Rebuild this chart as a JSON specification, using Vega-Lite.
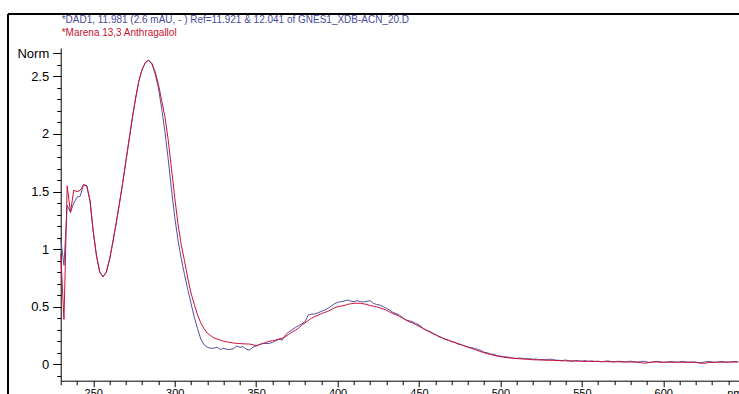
{
  "$schema": "https://vega.github.io/schema/vega-lite/v6.json",
  "width": 678,
  "height": 332.7,
  "autosize": {"type": "none"},
  "padding": {"left": 60.7, "top": 48, "right": 0, "bottom": 13},
  "background": "white",
  "config": {"view": {"stroke": null}, "font": "Liberation Sans"},
  "title": {
    "text": "*DAD1, 11.981 (2.6 mAU, - ) Ref=11.921 & 12.041 of GNES1_XDB-ACN_20.D",
    "subtitle": "*Marena 13,3 Anthragallol",
    "anchor": "start",
    "frame": "group",
    "font": "Liberation Sans",
    "fontSize": 10,
    "fontWeight": "normal",
    "color": "#4a4a9c",
    "subtitleFont": "Liberation Sans",
    "subtitleFontSize": 10,
    "subtitleColor": "#c8102e",
    "subtitlePadding": 3,
    "offset": -24,
    "dx": 1
  },
  "data": {"values": [
    {"nm":230,"b":1.09,"r":0.96},{"nm":232,"b":0.86,"r":0.39},{"nm":234,"b":1.38,"r":1.55},{"nm":236,"b":1.32,"r":1.32},
    {"nm":238,"b":1.40,"r":1.51},{"nm":240,"b":1.45,"r":1.50},{"nm":242,"b":1.46,"r":1.51},{"nm":244,"b":1.56,"r":1.56},
    {"nm":246,"b":1.55,"r":1.55},{"nm":248,"b":1.42,"r":1.42},{"nm":250,"b":1.15,"r":1.15},{"nm":252,"b":0.94,"r":0.94},
    {"nm":254,"b":0.80,"r":0.80},{"nm":256,"b":0.76,"r":0.76},{"nm":258,"b":0.80,"r":0.80},{"nm":260,"b":0.91,"r":0.91},
    {"nm":262,"b":1.06,"r":1.06},{"nm":264,"b":1.22,"r":1.22},{"nm":266,"b":1.39,"r":1.39},{"nm":268,"b":1.57,"r":1.57},
    {"nm":270,"b":1.76,"r":1.76},{"nm":272,"b":1.95,"r":1.95},{"nm":274,"b":2.14,"r":2.14},{"nm":276,"b":2.31,"r":2.31},
    {"nm":278,"b":2.46,"r":2.46},{"nm":280,"b":2.56,"r":2.56},{"nm":282,"b":2.62,"r":2.62},{"nm":284,"b":2.64,"r":2.64},
    {"nm":286,"b":2.61,"r":2.61},{"nm":288,"b":2.52,"r":2.54},{"nm":290,"b":2.40,"r":2.43},{"nm":292,"b":2.22,"r":2.29},
    {"nm":294,"b":2.02,"r":2.15},{"nm":296,"b":1.78,"r":1.95},{"nm":298,"b":1.52,"r":1.70},{"nm":300,"b":1.28,"r":1.45},
    {"nm":302,"b":1.08,"r":1.22},{"nm":304,"b":0.92,"r":1.04},{"nm":306,"b":0.78,"r":0.90},{"nm":308,"b":0.65,"r":0.75},
    {"nm":310,"b":0.53,"r":0.62},{"nm":312,"b":0.41,"r":0.52},{"nm":314,"b":0.31,"r":0.43},{"nm":316,"b":0.22,"r":0.36},
    {"nm":318,"b":0.17,"r":0.31},{"nm":320,"b":0.148,"r":0.27},{"nm":322,"b":0.14,"r":0.25},{"nm":324,"b":0.14,"r":0.23},
    {"nm":326,"b":0.148,"r":0.22},{"nm":328,"b":0.13,"r":0.21},{"nm":330,"b":0.139,"r":0.20},{"nm":332,"b":0.13,"r":0.195},
    {"nm":334,"b":0.13,"r":0.19},{"nm":336,"b":0.135,"r":0.185},{"nm":338,"b":0.159,"r":0.182},{"nm":340,"b":0.148,"r":0.18},
    {"nm":342,"b":0.153,"r":0.178},{"nm":344,"b":0.13,"r":0.177},{"nm":346,"b":0.124,"r":0.176},{"nm":348,"b":0.148,"r":0.17},
    {"nm":350,"b":0.159,"r":0.162},{"nm":352,"b":0.172,"r":0.17},{"nm":354,"b":0.182,"r":0.18},{"nm":356,"b":0.18,"r":0.19},
    {"nm":358,"b":0.182,"r":0.20},{"nm":360,"b":0.19,"r":0.205},{"nm":362,"b":0.205,"r":0.21},{"nm":364,"b":0.217,"r":0.22},
    {"nm":366,"b":0.21,"r":0.226},{"nm":368,"b":0.255,"r":0.24},{"nm":370,"b":0.28,"r":0.26},{"nm":372,"b":0.30,"r":0.28},
    {"nm":374,"b":0.32,"r":0.295},{"nm":376,"b":0.335,"r":0.315},{"nm":378,"b":0.35,"r":0.34},{"nm":380,"b":0.37,"r":0.36},
    {"nm":382,"b":0.428,"r":0.38},{"nm":384,"b":0.435,"r":0.40},{"nm":386,"b":0.437,"r":0.415},{"nm":388,"b":0.447,"r":0.425},
    {"nm":390,"b":0.46,"r":0.44},{"nm":392,"b":0.47,"r":0.45},{"nm":394,"b":0.485,"r":0.46},{"nm":396,"b":0.505,"r":0.475},
    {"nm":398,"b":0.525,"r":0.49},{"nm":400,"b":0.538,"r":0.50},{"nm":402,"b":0.543,"r":0.505},{"nm":404,"b":0.55,"r":0.51},
    {"nm":406,"b":0.558,"r":0.52},{"nm":408,"b":0.55,"r":0.525},{"nm":410,"b":0.543,"r":0.53},{"nm":412,"b":0.552,"r":0.53},
    {"nm":414,"b":0.545,"r":0.53},{"nm":416,"b":0.541,"r":0.525},{"nm":418,"b":0.548,"r":0.52},{"nm":420,"b":0.552,"r":0.51},
    {"nm":422,"b":0.529,"r":0.505},{"nm":424,"b":0.52,"r":0.50},{"nm":426,"b":0.515,"r":0.49},{"nm":428,"b":0.50,"r":0.48},
    {"nm":430,"b":0.486,"r":0.47},{"nm":432,"b":0.47,"r":0.455},{"nm":434,"b":0.451,"r":0.44},{"nm":436,"b":0.44,"r":0.43},
    {"nm":438,"b":0.428,"r":0.415},{"nm":440,"b":0.405,"r":0.40},{"nm":442,"b":0.385,"r":0.385},{"nm":444,"b":0.378,"r":0.37},
    {"nm":446,"b":0.37,"r":0.36},{"nm":448,"b":0.355,"r":0.345},{"nm":450,"b":0.341,"r":0.33},{"nm":452,"b":0.32,"r":0.315},
    {"nm":454,"b":0.298,"r":0.30},{"nm":456,"b":0.29,"r":0.285},{"nm":458,"b":0.274,"r":0.27},{"nm":460,"b":0.26,"r":0.258},
    {"nm":462,"b":0.24,"r":0.245},{"nm":464,"b":0.23,"r":0.232},{"nm":466,"b":0.217,"r":0.22},{"nm":468,"b":0.21,"r":0.21},
    {"nm":470,"b":0.196,"r":0.20},{"nm":472,"b":0.19,"r":0.19},{"nm":474,"b":0.176,"r":0.18},{"nm":476,"b":0.17,"r":0.17},
    {"nm":478,"b":0.159,"r":0.16},{"nm":480,"b":0.15,"r":0.15},{"nm":482,"b":0.145,"r":0.14},{"nm":484,"b":0.139,"r":0.13},
    {"nm":486,"b":0.13,"r":0.12},{"nm":488,"b":0.12,"r":0.11},{"nm":490,"b":0.105,"r":0.10},{"nm":492,"b":0.10,"r":0.092},
    {"nm":494,"b":0.09,"r":0.085},{"nm":496,"b":0.087,"r":0.078},{"nm":498,"b":0.075,"r":0.072},{"nm":500,"b":0.072,"r":0.066},
    {"nm":502,"b":0.066,"r":0.062},{"nm":504,"b":0.064,"r":0.058},{"nm":506,"b":0.06,"r":0.055},{"nm":508,"b":0.054,"r":0.052},
    {"nm":510,"b":0.052,"r":0.05},{"nm":512,"b":0.055,"r":0.048},{"nm":514,"b":0.05,"r":0.046},{"nm":516,"b":0.048,"r":0.044},
    {"nm":518,"b":0.049,"r":0.042},{"nm":520,"b":0.044,"r":0.04},{"nm":522,"b":0.046,"r":0.039},{"nm":524,"b":0.04,"r":0.038},
    {"nm":526,"b":0.043,"r":0.037},{"nm":528,"b":0.038,"r":0.036},{"nm":530,"b":0.045,"r":0.035},{"nm":532,"b":0.043,"r":0.034},
    {"nm":534,"b":0.036,"r":0.033},{"nm":536,"b":0.035,"r":0.032},{"nm":538,"b":0.032,"r":0.031},{"nm":540,"b":0.038,"r":0.03},
    {"nm":542,"b":0.03,"r":0.03},{"nm":544,"b":0.028,"r":0.029},{"nm":546,"b":0.034,"r":0.028},{"nm":548,"b":0.03,"r":0.028},
    {"nm":550,"b":0.027,"r":0.027},{"nm":552,"b":0.032,"r":0.026},{"nm":554,"b":0.026,"r":0.026},{"nm":556,"b":0.03,"r":0.025},
    {"nm":558,"b":0.025,"r":0.025},{"nm":560,"b":0.028,"r":0.024},{"nm":562,"b":0.022,"r":0.024},{"nm":564,"b":0.026,"r":0.023},
    {"nm":566,"b":0.03,"r":0.023},{"nm":568,"b":0.024,"r":0.022},{"nm":570,"b":0.021,"r":0.022},{"nm":572,"b":0.027,"r":0.022},
    {"nm":574,"b":0.025,"r":0.021},{"nm":576,"b":0.02,"r":0.021},{"nm":578,"b":0.024,"r":0.02},{"nm":580,"b":0.028,"r":0.02},
    {"nm":582,"b":0.022,"r":0.02},{"nm":584,"b":0.018,"r":0.019},{"nm":586,"b":0.024,"r":0.015},{"nm":588,"b":0.027,"r":0.01},
    {"nm":590,"b":0.02,"r":0.012},{"nm":592,"b":0.015,"r":0.018},{"nm":594,"b":0.022,"r":0.02},{"nm":596,"b":0.026,"r":0.02},
    {"nm":598,"b":0.021,"r":0.019},{"nm":600,"b":0.016,"r":0.019},{"nm":602,"b":0.02,"r":0.018},{"nm":604,"b":0.025,"r":0.018},
    {"nm":606,"b":0.022,"r":0.018},{"nm":608,"b":0.017,"r":0.019},{"nm":610,"b":0.021,"r":0.018},{"nm":612,"b":0.026,"r":0.018},
    {"nm":614,"b":0.02,"r":0.017},{"nm":616,"b":0.018,"r":0.018},{"nm":618,"b":0.022,"r":0.017},{"nm":620,"b":0.019,"r":0.016},
    {"nm":622,"b":0.014,"r":0.012},{"nm":624,"b":0.017,"r":0.008},{"nm":626,"b":0.022,"r":0.01},{"nm":628,"b":0.025,"r":0.016},
    {"nm":630,"b":0.02,"r":0.018},{"nm":632,"b":0.017,"r":0.018},{"nm":634,"b":0.022,"r":0.019},{"nm":636,"b":0.026,"r":0.018},
    {"nm":638,"b":0.02,"r":0.019},{"nm":640,"b":0.018,"r":0.02},{"nm":642,"b":0.023,"r":0.019},{"nm":644,"b":0.025,"r":0.02},
    {"nm":646,"b":0.021,"r":0.02}
  ]},
  "encoding": {
    "x": {
      "field": "nm", "type": "quantitative",
      "scale": {"domain": [230, 646.3], "nice": false, "zero": false},
      "axis": {
        "values": [230,240,250,260,270,280,290,300,310,320,330,340,350,360,370,380,390,400,410,420,430,440,450,460,470,480,490,500,510,520,530,540,550,560,570,580,590,600,610,620,630,640],
        "labelExpr": "datum.value % 50 == 0 ? datum.label : ''",
        "grid": false,
        "domainColor": "#000000",
        "tickColor": "#000000",
        "tickSize": {"condition": {"test": "datum.value % 50 == 0", "value": 6}, "value": 4},
        "labelFont": "Liberation Sans",
        "labelFontSize": 11,
        "labelColor": "#000000",
        "labelPadding": 1,
        "labelFlush": false,
        "labelOverlap": false,
        "title": "nm",
        "titleFont": "Liberation Sans",
        "titleFontSize": 11,
        "titleFontWeight": "normal",
        "titleColor": "#000000",
        "titleX": 666,
        "titleY": 7,
        "titleAlign": "left",
        "titleBaseline": "top",
        "titleAnchor": "start"
      }
    },
    "y": {
      "type": "quantitative",
      "scale": {"domain": [-0.142, 2.746], "nice": false, "zero": false},
      "axis": {
        "values": [-0.1,0,0.1,0.2,0.3,0.4,0.5,0.6,0.7,0.8,0.9,1,1.1,1.2,1.3,1.4,1.5,1.6,1.7,1.8,1.9,2,2.1,2.2,2.3,2.4,2.5,2.6,2.7],
        "labelExpr": "datum.value > 2.65 ? 'Norm' : (abs(datum.value*2 - round(datum.value*2)) < 0.001 ? ('' + datum.value) : '')",
        "grid": false,
        "title": null,
        "domainColor": "#000000",
        "tickColor": "#000000",
        "tickSize": {"condition": {"test": "abs(datum.value*2 - round(datum.value*2)) < 0.001 || datum.value > 2.65", "value": 8}, "value": 4},
        "labelFont": "Liberation Sans",
        "labelFontSize": 13,
        "labelColor": "#000000",
        "labelPadding": 4,
        "labelFlush": false,
        "labelOverlap": false
      }
    }
  },
  "layer": [
    {"mark": {"type": "rule", "color": "#000000", "strokeWidth": 1, "clip": false},
     "encoding": {"x": {"datum": 197.8}, "y": {"datum": 3.038}, "y2": {"datum": -0.5}}},
    {"mark": {"type": "rule", "color": "#000000", "strokeWidth": 1, "clip": false},
     "encoding": {"y": {"datum": 3.038}, "x": {"datum": 197.8}, "x2": {"datum": 700}}},
    {"mark": {"type": "line", "color": "#50509e", "strokeWidth": 1, "interpolate": "linear"},
     "encoding": {"y": {"field": "b", "type": "quantitative"}}},
    {"mark": {"type": "line", "color": "#cc0f36", "strokeWidth": 1, "interpolate": "linear"},
     "encoding": {"y": {"field": "r", "type": "quantitative"}}}
  ]
}
